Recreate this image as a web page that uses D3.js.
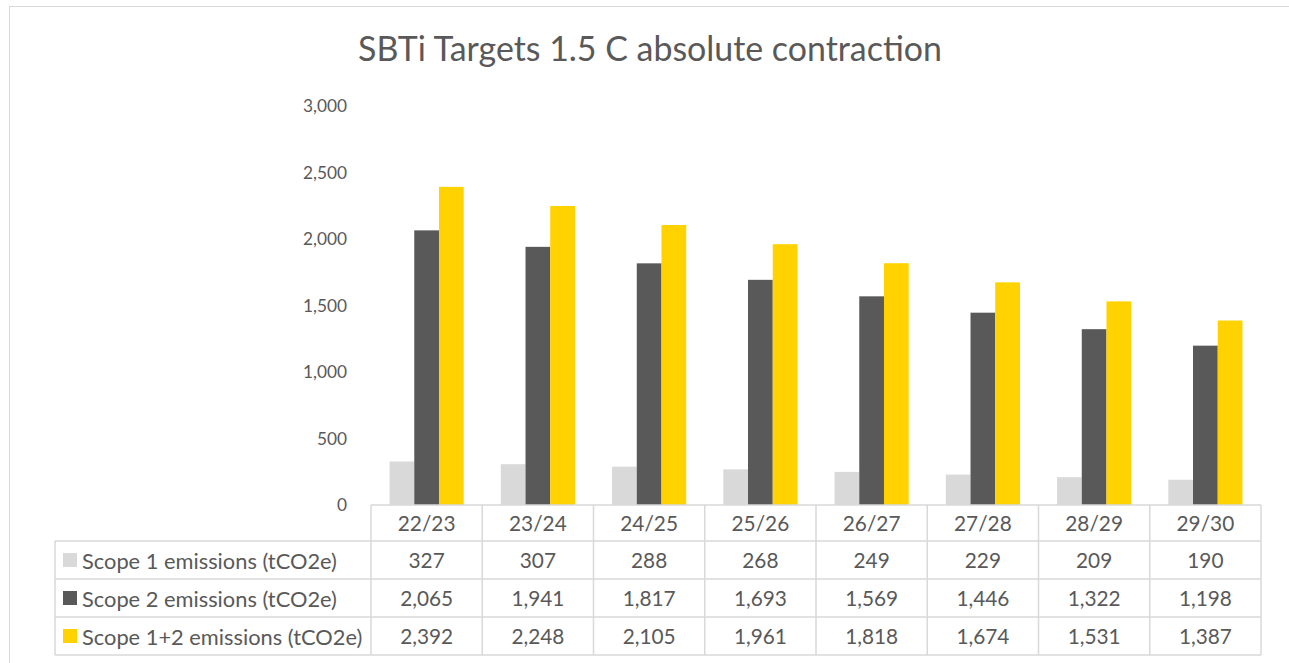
<!DOCTYPE html>
<html>
<head>
<meta charset="UTF-8">
<script src="https://cdn.jsdelivr.net/npm/d3@7"></script>
<style>
body { margin: 0; background: #fff; }
text { font-family: Lato, "Open Sans", sans-serif; fill: #595959; }
</style>
</head>
<body>
<script>

var categories = ["22/23", "23/24", "24/25", "25/26", "26/27", "27/28", "28/29", "29/30"];
var seriesNames = ["Scope 1 emissions (tCO2e)", "Scope 2 emissions (tCO2e)", "Scope 1+2 emissions (tCO2e)"];
var scope1 = [327, 307, 288, 268, 249, 229, 209, 190];
var scope2 = [2065, 1941, 1817, 1693, 1569, 1446, 1322, 1198];
var scope12 = [2392, 2248, 2105, 1961, 1818, 1674, 1531, 1387];
var yTicks = [0, 500, 1000, 1500, 2000, 2500, 3000];
var title = "SBTi Targets 1.5 C absolute contraction";

var seriesValues = [scope1, scope2, scope12];
var colors = ["#d9d9d9", "#595959", "#ffd200"];

var width = 1289, height = 663;
var fmt = d3.format(",");

var svg = d3.select("body").append("svg")
    .attr("width", width)
    .attr("height", height);

// work out a font size so that a sample string is about w px wide
function fitSize(sample, w) {
    var tmp = svg.append("text").attr("font-size", 20).text(sample);
    var len = tmp.node().getComputedTextLength();
    tmp.remove();
    return 20 * w / len;
}
var tickSize = fitSize("3,000", 44);
var cellSize = fitSize("2,065", 53);
var legSize = fitSize("Scope 1 emissions (tCO2e)", 255);

// outer chart frame (cut off at right and bottom)
svg.append("rect")
    .attr("x", 9.5).attr("y", 6.5)
    .attr("width", 1400).attr("height", 800)
    .attr("fill", "none")
    .attr("stroke", "#d9d9d9")
    .attr("stroke-width", 1);

svg.append("text")
    .attr("x", 650).attr("y", 61)
    .attr("text-anchor", "middle")
    .attr("font-size", fitSize(title, 584))
    .text(title);

var x = d3.scaleBand()
    .domain(categories)
    .range([371, 1261]);

var x1 = d3.scaleBand()
    .domain(d3.range(3))
    .range([0, x.bandwidth()])
    .paddingInner(0)
    .paddingOuter(0.75);

var y = d3.scaleLinear()
    .domain([0, 3000])
    .range([505, 106]);

// y tick labels (no axis line)
svg.append("g").selectAll("text")
    .data(yTicks)
    .enter().append("text")
    .attr("x", 347)
    .attr("y", function(d) { return y(d); })
    .attr("dy", "0.35em")
    .attr("text-anchor", "end")
    .attr("font-size", tickSize)
    .text(function(d) { return fmt(d); });

// bars
var groups = svg.append("g").selectAll("g")
    .data(categories)
    .enter().append("g")
    .attr("transform", function(d) { return "translate(" + x(d) + ",0)"; });

groups.selectAll("rect")
    .data(function(d, i) { return seriesValues.map(function(s, j) { return {s: j, v: s[i]}; }); })
    .enter().append("rect")
    .attr("x", function(d) { return x1(d.s); })
    .attr("width", x1.bandwidth())
    .attr("y", function(d) { return y(d.v); })
    .attr("height", function(d) { return y(0) - y(d.v); })
    .attr("fill", function(d) { return colors[d.s]; });

// data table
var rowTop = [505, 541, 579, 617, 655];
var legLeft = 55;
var table = svg.append("g")
    .attr("stroke", "#d9d9d9")
    .attr("stroke-width", 1.5)
    .attr("fill", "none");

table.append("line").attr("x1", x.range()[0]).attr("x2", x.range()[1]).attr("y1", rowTop[0]).attr("y2", rowTop[0]);
for (var r = 1; r < rowTop.length; r++) {
    table.append("line").attr("x1", legLeft).attr("x2", x.range()[1]).attr("y1", rowTop[r]).attr("y2", rowTop[r]);
}
table.append("line").attr("x1", legLeft).attr("x2", legLeft).attr("y1", rowTop[1]).attr("y2", rowTop[4]);
categories.forEach(function(c) {
    table.append("line").attr("x1", x(c)).attr("x2", x(c)).attr("y1", rowTop[0]).attr("y2", rowTop[4]);
});
table.append("line").attr("x1", x.range()[1]).attr("x2", x.range()[1]).attr("y1", rowTop[0]).attr("y2", rowTop[4]);

// header row
svg.append("g").selectAll("text")
    .data(categories)
    .enter().append("text")
    .attr("x", function(d) { return x(d) + x.bandwidth() / 2; })
    .attr("y", (rowTop[0] + rowTop[1]) / 2 + 1)
    .attr("dy", "0.35em")
    .attr("text-anchor", "middle")
    .attr("font-size", cellSize)
    .text(function(d) { return d; });

seriesNames.forEach(function(name, j) {
    var cy = (rowTop[j + 1] + rowTop[j + 2]) / 2 + 1;
    svg.append("rect")
        .attr("x", 63).attr("y", cy - 8)
        .attr("width", 14).attr("height", 14)
        .attr("fill", colors[j]);
    svg.append("text")
        .attr("x", 82).attr("y", cy)
        .attr("dy", "0.35em")
        .attr("font-size", legSize)
        .text(name);
    svg.append("g").selectAll("text")
        .data(seriesValues[j])
        .enter().append("text")
        .attr("x", function(d, i) { return x(categories[i]) + x.bandwidth() / 2; })
        .attr("y", cy)
        .attr("dy", "0.35em")
        .attr("text-anchor", "middle")
        .attr("font-size", cellSize)
        .text(function(d) { return fmt(d); });
});

</script>
</body>
</html>
